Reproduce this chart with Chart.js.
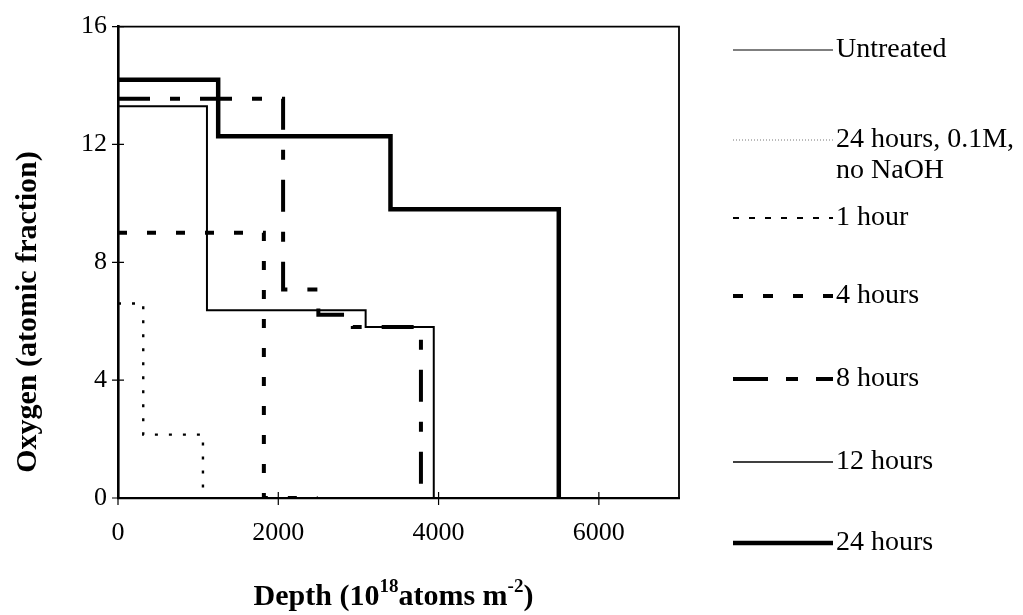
<!DOCTYPE html>
<html lang="en">
<head>
<meta charset="UTF-8">
<title>Oxygen depth profiles</title>
<style>
  body { margin: 0; background: #fff; }
  #wrap { width: 1023px; height: 615px; }
</style>
</head>
<body>
<div id="wrap"><canvas id="depthChart"></canvas></div>
<script src="https://cdn.jsdelivr.net/npm/chart.js@4.4.0/dist/chart.umd.min.js"></script>
<script>
// legend order
var seriesNames = ['Untreated', ['24 hours, 0.1M,', 'no NaOH'], '1 hour', '4 hours', '8 hours', '12 hours', '24 hours'];

// step profiles: depth where a level starts, and the oxygen level from there on
var untreatedDepth = [];
var untreatedO = [];
var noNaohDepth = [];
var noNaohO = [];
var h1Depth = [0, 315, 1060];
var h1O = [6.6, 2.15, 0];
var h4Depth = [0, 1820, 2490];
var h4O = [9.0, 0, 0];
var h8Depth = [0, 2060, 2500, 2930, 3780];
var h8O = [13.55, 7.08, 6.22, 5.8, 0];
var h12Depth = [0, 1110, 3090, 3940];
var h12O = [13.3, 6.37, 5.8, 0];
var h24Depth = [0, 1250, 3400, 5500];
var h24O = [14.2, 12.28, 9.8, 0];

var xTicks = [0, 2000, 4000, 6000];
var yTicks = [0, 4, 8, 12, 16];

function pts(xs, ys) {
   return xs.map(function (x, i) { return { x: x, y: ys[i] }; });
}

var serif = 'Liberation Serif, Times New Roman, serif';

var datasets = [
   { label: 'Untreated', data: pts(untreatedDepth, untreatedO), borderWidth: 1.2, borderDash: [] },
   { label: '24 hours, 0.1M, no NaOH', data: pts(noNaohDepth, noNaohO), borderWidth: 1, borderDash: [1, 2], borderColor: '#777' },
   { label: '1 hour', data: pts(h1Depth, h1O), borderWidth: 2.4, borderDash: [3, 11], legendDash: [6, 10], legendWidth: 2 },
   { label: '4 hours', data: pts(h4Depth, h4O), borderWidth: 4, borderDash: [9, 20], legendDash: [10, 20] },
   { label: '8 hours', data: pts(h8Depth, h8O), borderWidth: 4, borderDash: [32, 20, 10, 20], legendDash: [35, 18, 12, 18] },
   { label: '12 hours', data: pts(h12Depth, h12O), borderWidth: 2, borderDash: [], legendWidth: 1.6 },
   { label: '24 hours', data: pts(h24Depth, h24O), borderWidth: 4.5, borderDash: [] }
];
datasets.forEach(function (d) {
   d.borderColor = d.borderColor || '#000';
   d.stepped = 'before';
   d.pointRadius = 0;
   d.fill = false;
});

var legendY = [50, 140, 218, 296, 379, 462, 543];

var paperPlugin = {
   id: 'paper',
   afterDraw: function (chart) {
      var ctx = chart.ctx, a = chart.chartArea;
      var xs = chart.scales.x, ys = chart.scales.y;
      ctx.save();
      ctx.strokeStyle = '#000';
      ctx.fillStyle = '#000';
      ctx.setLineDash([]);

      // top and right frame
      ctx.lineWidth = 1.8;
      ctx.beginPath();
      ctx.moveTo(a.left, a.top);
      ctx.lineTo(a.right, a.top);
      ctx.lineTo(a.right, a.bottom);
      ctx.stroke();

      // tick marks crossing the axes
      ctx.lineWidth = 1.2;
      ctx.beginPath();
      yTicks.forEach(function (v) {
         var y = ys.getPixelForValue(v);
         ctx.moveTo(a.left - 6, y);
         ctx.lineTo(a.left + 6, y);
      });
      xTicks.forEach(function (v) {
         var x = xs.getPixelForValue(v);
         ctx.moveTo(x, a.bottom - 6);
         ctx.lineTo(x, a.bottom + 7);
      });
      ctx.stroke();

      // y title
      ctx.save();
      ctx.translate(28, 312);
      ctx.rotate(-Math.PI / 2);
      ctx.font = 'bold 30px ' + serif;
      ctx.textAlign = 'center';
      ctx.textBaseline = 'middle';
      ctx.fillText('Oxygen (atomic fraction)', 0, 0);
      ctx.restore();

      // x title with superscripts
      var parts = [['Depth (10', 0], ['18', 1], ['atoms m', 0], ['-2', 1], [')', 0]];
      var big = 'bold 30px ' + serif, small = 'bold 19px ' + serif;
      var total = 0;
      parts.forEach(function (p) {
         ctx.font = p[1] ? small : big;
         total += ctx.measureText(p[0]).width;
      });
      var cx = (a.left + a.right) / 2 - total / 2 - 5;
      ctx.textAlign = 'left';
      ctx.textBaseline = 'alphabetic';
      parts.forEach(function (p) {
         ctx.font = p[1] ? small : big;
         ctx.fillText(p[0], cx, p[1] ? 592 : 605);
         cx += ctx.measureText(p[0]).width;
      });

      // legend
      ctx.font = '28px ' + serif;
      ctx.textBaseline = 'middle';
      chart.data.datasets.forEach(function (d, i) {
         var y = legendY[i];
         ctx.strokeStyle = d.borderColor;
         ctx.lineWidth = d.legendWidth || d.borderWidth;
         ctx.setLineDash(d.legendDash || d.borderDash || []);
         ctx.beginPath();
         ctx.moveTo(733, y);
         ctx.lineTo(833, y);
         ctx.stroke();
         var name = seriesNames[i];
         if (!Array.isArray(name)) name = [name];
         name.forEach(function (line, k) {
            ctx.fillText(line, 836, y + k * 31);
         });
      });
      ctx.restore();
   }
};

function plainTick(value) {
   return String(value);
}

new Chart(document.getElementById('depthChart'), {
   type: 'line',
   data: { datasets: datasets },
   options: {
      responsive: true,
      maintainAspectRatio: false,
      animation: false,
      layout: { padding: { top: 23, right: 344, left: 0, bottom: 0 } },
      plugins: { legend: { display: false }, tooltip: { enabled: false } },
      scales: {
         x: {
            type: 'linear',
            min: 0,
            max: 7000,
            afterBuildTicks: function (s) { s.ticks = xTicks.map(function (v) { return { value: v }; }); },
            afterFit: function (s) { s.height = 117; },
            grid: { display: false, drawTicks: false },
            border: { display: true, color: '#000', width: 2.3 },
            ticks: { color: '#000', padding: 20, maxRotation: 0, callback: plainTick, font: { family: serif, size: 26 } }
         },
         y: {
            min: 0,
            max: 16,
            afterBuildTicks: function (s) { s.ticks = yTicks.map(function (v) { return { value: v }; }); },
            afterFit: function (s) { s.width = 118; },
            grid: { display: false, drawTicks: false },
            border: { display: true, color: '#000', width: 2.6 },
            ticks: { color: '#000', padding: 11, callback: plainTick, font: { family: serif, size: 26 } }
         }
      }
   },
   plugins: [paperPlugin]
});
</script>
</body>
</html>
